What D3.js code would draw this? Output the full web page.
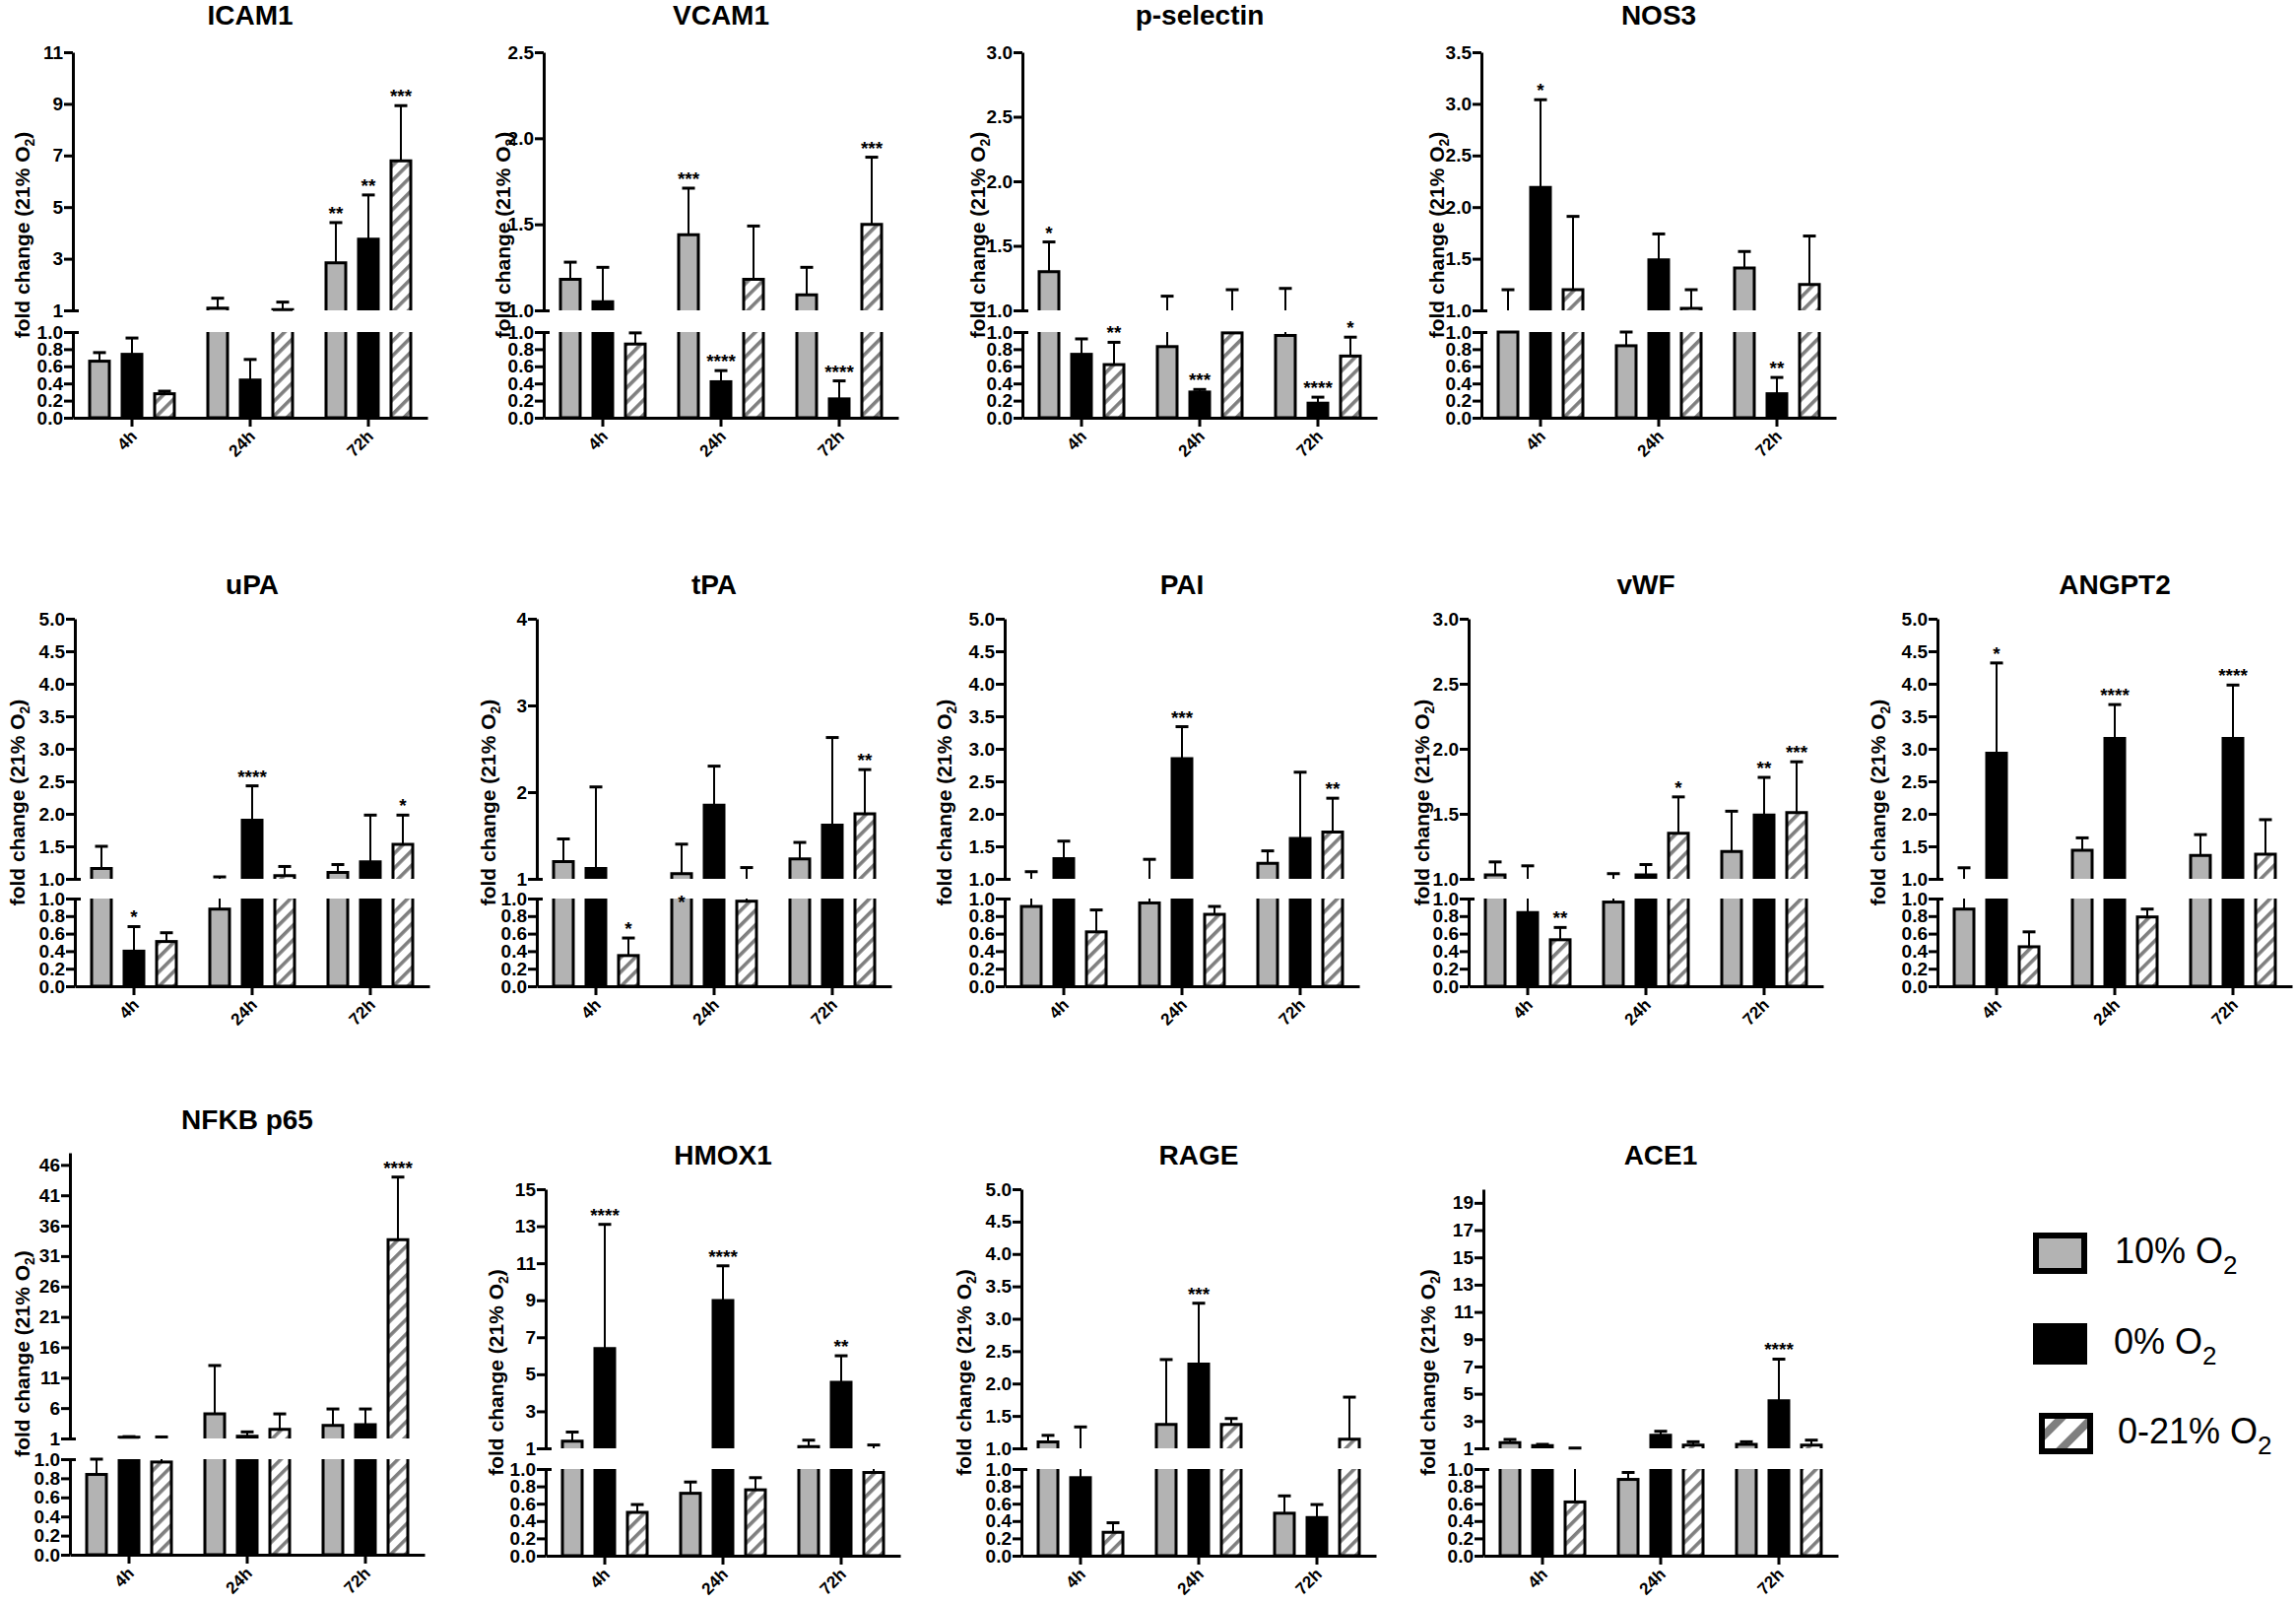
<!DOCTYPE html>
<html>
<head>
<meta charset="utf-8">
<script src="https://cdn.jsdelivr.net/npm/d3@7"></script>
<style>
body { margin: 0; background: #fff; }
svg text { font-family: "Liberation Sans", Arial, Helvetica, sans-serif; }
</style>
</head>
<body>
<svg id="chart" width="2331" height="1627"></svg>
<script>
var timepoints = ['4h', '24h', '72h'];
var conditions = ['10% O', '0% O', '0-21% O'];   // subscript 2 is added when drawn
var lowerTicks = [0, 0.2, 0.4, 0.6, 0.8, 1.0];

var genes = ['ICAM1', 'VCAM1', 'p-selectin', 'NOS3', 'uPA', 'tPA', 'PAI', 'vWF', 'ANGPT2', 'NFKB p65', 'HMOX1', 'RAGE', 'ACE1'];
var upperTicks = [
    [1, 3, 5, 7, 9, 11],
    [1.0, 1.5, 2.0, 2.5],
    [1.0, 1.5, 2.0, 2.5, 3.0],
    [1.0, 1.5, 2.0, 2.5, 3.0, 3.5],
    [1.0, 1.5, 2.0, 2.5, 3.0, 3.5, 4.0, 4.5, 5.0],
    [1, 2, 3, 4],
    [1.0, 1.5, 2.0, 2.5, 3.0, 3.5, 4.0, 4.5, 5.0],
    [1.0, 1.5, 2.0, 2.5, 3.0],
    [1.0, 1.5, 2.0, 2.5, 3.0, 3.5, 4.0, 4.5, 5.0],
    [1, 6, 11, 16, 21, 26, 31, 36, 41, 46],
    [1, 3, 5, 7, 9, 11, 13, 15],
    [1.0, 1.5, 2.0, 2.5, 3.0, 3.5, 4.0, 4.5, 5.0],
    [1, 3, 5, 7, 9, 11, 13, 15, 17, 19]
];
var upperMax = [11, 2.5, 3.0, 3.5, 5.0, 4, 5.0, 3.0, 5.0, 48, 15, 5.0, 20];
var tickFormats = ['d', '.1f', '.1f', '.1f', '.1f', 'd', '.1f', '.1f', '.1f', 'd', 'd', '.1f', 'd'];

// rows: 10% O2, 0% O2, 0-21% O2 ; columns: 4h, 24h, 72h
var icam1Mean = [[0.66, 1.09, 2.84], [0.74, 0.44, 3.76], [0.28, 1.03, 6.79]];
var icam1Sd = [[0.10, 0.38, 1.56], [0.19, 0.24, 1.71], [0.03, 0.29, 2.14]];
var icam1Stars = [['', '', '**'], ['', '', '**'], ['', '', '***']];

var vcam1Mean = [[1.18, 1.44, 1.09], [1.05, 0.42, 0.22], [0.86, 1.18, 1.50]];
var vcam1Sd = [[0.10, 0.27, 0.16], [0.20, 0.13, 0.21], [0.13, 0.31, 0.39]];
var vcam1Stars = [['', '***', ''], ['', '****', '****'], ['', '', '***']];

var pselMean = [[1.30, 0.83, 0.96], [0.74, 0.30, 0.17], [0.62, 0.99, 0.72]];
var pselSd = [[0.23, 0.28, 0.21], [0.18, 0.03, 0.07], [0.26, 0.17, 0.22]];
var pselStars = [['*', '', ''], ['', '***', '****'], ['**', '', '*']];

var nos3Mean = [[1.00, 0.84, 1.41], [2.19, 1.49, 0.28], [1.20, 1.02, 1.25]];
var nos3Sd = [[0.20, 0.16, 0.16], [0.85, 0.25, 0.19], [0.71, 0.18, 0.47]];
var nos3Stars = [['', '', ''], ['*', '', '**'], ['', '', '']];

var upaMean = [[1.16, 0.88, 1.10], [0.40, 1.90, 1.26], [0.51, 1.05, 1.53]];
var upaSd = [[0.34, 0.15, 0.12], [0.28, 0.53, 0.72], [0.10, 0.14, 0.45]];
var upaStars = [['', '', ''], ['*', '****', ''], ['', '', '*']];

var tpaMean = [[1.20, 1.06, 1.23], [1.12, 1.85, 1.62], [0.35, 0.97, 1.75]];
var tpaSd = [[0.26, 0.34, 0.19], [0.94, 0.45, 1.01], [0.20, 0.16, 0.51]];
var tpaStars = [['', '*', ''], ['', '', ''], ['*', '', '**']];
// the 24h 10% O2 star of tPA sits on the lower axis top, not above its error bar
var tpaStarAt = [[null, 1.0, null], [null, null, null], [null, null, null]];

var paiMean = [[0.91, 0.95, 1.24], [1.31, 2.85, 1.62], [0.62, 0.82, 1.72]];
var paiSd = [[0.20, 0.35, 0.19], [0.27, 0.49, 1.02], [0.25, 0.09, 0.52]];
var paiStars = [['', '', ''], ['', '***', ''], ['', '', '**']];

var vwfMean = [[1.03, 0.96, 1.21], [0.84, 1.03, 1.49], [0.53, 1.35, 1.51]];
var vwfSd = [[0.10, 0.08, 0.31], [0.26, 0.08, 0.29], [0.14, 0.28, 0.39]];
var vwfStars = [['', '', ''], ['', '', '**'], ['**', '*', '***']];

var angpt2Mean = [[0.88, 1.44, 1.36], [2.93, 3.16, 3.16], [0.45, 0.79, 1.38]];
var angpt2Sd = [[0.29, 0.19, 0.32], [1.39, 0.52, 0.82], [0.17, 0.09, 0.53]];
var angpt2Stars = [['', '', ''], ['*', '****', '****'], ['', '', '']];

var nfkbMean = [[0.84, 5.04, 3.15], [1.20, 1.38, 3.26], [0.97, 2.50, 33.7]];
var nfkbSd = [[0.16, 7.96, 2.70], [0.10, 0.70, 2.59], [0.28, 2.54, 10.3]];
var nfkbStars = [['', '', ''], ['', '', ''], ['', '', '****']];

var hmox1Mean = [[1.39, 0.72, 1.09], [6.39, 8.99, 4.57], [0.50, 0.76, 0.96]];
var hmox1Sd = [[0.49, 0.13, 0.35], [6.71, 1.87, 1.43], [0.09, 0.14, 0.22]];
var hmox1Stars = [['', '', ''], ['****', '****', '**'], ['', '', '']];

var rageMean = [[1.10, 1.37, 0.49], [0.90, 2.30, 0.44], [0.27, 1.37, 1.14]];
var rageSd = [[0.10, 1.00, 0.20], [0.43, 0.94, 0.15], [0.11, 0.09, 0.65]];
var rageStars = [['', '', ''], ['', '***', ''], ['', '', '']];

var ace1Mean = [[1.41, 0.88, 1.29], [1.19, 1.96, 4.49], [0.62, 1.24, 1.24]];
var ace1Sd = [[0.24, 0.08, 0.19], [0.10, 0.29, 3.05], [0.40, 0.24, 0.36]];
var ace1Stars = [['', '', ''], ['', '', '****'], ['', '', '']];

var means = [icam1Mean, vcam1Mean, pselMean, nos3Mean, upaMean, tpaMean, paiMean, vwfMean, angpt2Mean, nfkbMean, hmox1Mean, rageMean, ace1Mean];
var sds = [icam1Sd, vcam1Sd, pselSd, nos3Sd, upaSd, tpaSd, paiSd, vwfSd, angpt2Sd, nfkbSd, hmox1Sd, rageSd, ace1Sd];
var stars = [icam1Stars, vcam1Stars, pselStars, nos3Stars, upaStars, tpaStars, paiStars, vwfStars, angpt2Stars, nfkbStars, hmox1Stars, rageStars, ace1Stars];

// ---- layout ----
var panelX = [74, 552, 1038, 1504, 76, 545, 1020, 1491, 1967, 71, 554, 1037, 1506];
var panelRow = [0, 0, 0, 0, 1, 1, 1, 1, 1, 2, 2, 2, 2];
// centre of the rotated y label, relative to the y axis
var labelDx = [-51, -41, -45, -45, -58, -49, -61, -47, -60, -48, -50, -58, -56];
var rows = [
    {title: 25, top: 53, brk: 315, low: 337, zero: 424},
    {title: 603, top: 628, brk: 892, low: 912, zero: 1001},
    {title: 1182, top: 1207, brk: 1470, low: 1491, zero: 1579}
];
var nfkbRow = {title: 1146, top: 1170, brk: 1460, low: 1481, zero: 1578};

var fills = ['#b3b3b3', '#000', 'url(#hatch)'];
var fontFam = '"Liberation Sans", Arial, Helvetica, sans-serif';

var svg = d3.select('#chart');
var defs = svg.append('defs');

var hatch = defs.append('pattern')
    .attr('id', 'hatch')
    .attr('patternUnits', 'userSpaceOnUse')
    .attr('width', 10.5).attr('height', 10.5)
    .attr('patternTransform', 'rotate(45)');
hatch.append('rect').attr('width', 10.5).attr('height', 10.5).attr('fill', '#fff');
hatch.append('rect').attr('width', 3.6).attr('height', 10.5).attr('fill', '#7f7f7f');

var hatchBig = defs.append('pattern')
    .attr('id', 'hatchBig')
    .attr('patternUnits', 'userSpaceOnUse')
    .attr('width', 22).attr('height', 22)
    .attr('patternTransform', 'translate(2075,1440) rotate(45)');
hatchBig.append('rect').attr('width', 22).attr('height', 22).attr('fill', '#fff');
hatchBig.append('rect').attr('x', 8).attr('width', 8).attr('height', 22).attr('fill', '#7f7f7f');

var xGroup = d3.scaleBand().domain(timepoints).range([0, 360]);
var xInner = d3.scaleBand().domain(conditions).range([-43, 43]).paddingInner(0.394);

function styleAxis(sel) {
    sel.attr('font-size', 19).attr('font-family', fontFam).attr('font-weight', 'bold');
    sel.select('.domain').attr('stroke-width', 3);
    sel.selectAll('.tick line').attr('stroke-width', 3);
    sel.selectAll('.tick text').attr('fill', '#000');
}

genes.forEach(function(gene, i) {
    var L = (i == 9) ? nfkbRow : rows[panelRow[i]];
    var g = svg.append('g').attr('transform', 'translate(' + panelX[i] + ',0)');

    var yUp = d3.scaleLinear().domain([1, upperMax[i]]).range([L.brk, L.top]);
    var yLo = d3.scaleLinear().domain([0, 1]).range([L.zero, L.low]);
    function yAt(v) { return v > 1 ? yUp(v) : yLo(v); }

    // title
    g.append('text')
        .attr('x', 180).attr('y', L.title)
        .attr('text-anchor', 'middle')
        .attr('font-size', 28).attr('font-weight', 'bold')
        .text(gene);

    // y label, baseline sits ~7px right of its visual centre
    var lab = g.append('text')
        .attr('transform', 'translate(' + (labelDx[i] + 7) + ',' + ((L.top + L.zero) / 2) + ') rotate(-90)')
        .attr('text-anchor', 'middle')
        .attr('font-size', 21).attr('font-weight', 'bold');
    lab.append('tspan').text('fold change (21% O');
    lab.append('tspan').attr('font-size', 14).attr('dy', 5).text('2');
    lab.append('tspan').attr('dy', -5).text(')');

    // bars
    var bars = [];
    conditions.forEach(function(cond, c) {
        timepoints.forEach(function(tp, t) {
            bars.push({c: c, cond: cond, tp: tp, mean: means[i][c][t], sd: sds[i][c][t], star: stars[i][c][t],
                starAt: (i == 5) ? tpaStarAt[c][t] : null});
        });
    });

    bars.forEach(function(b) {
        var x0 = xGroup(b.tp) + xGroup.bandwidth() / 2 + xInner(b.cond);
        var w = xInner.bandwidth();
        var x1 = x0 + w;
        var cx = x0 + w / 2;
        var low = Math.min(b.mean, 1);

        g.append('rect')
            .attr('x', x0).attr('y', yLo(low))
            .attr('width', w).attr('height', yLo(0) - yLo(low))
            .attr('fill', fills[b.c]);
        if (b.mean <= 1) {
            g.append('rect')
                .attr('x', x0).attr('y', yLo(low))
                .attr('width', w).attr('height', yLo(0) - yLo(low))
                .attr('fill', 'none').attr('stroke', '#000').attr('stroke-width', 3);
        } else {
            g.append('path')
                .attr('d', 'M' + x0 + ',' + yLo(1) + 'V' + yLo(0) + 'H' + x1 + 'V' + yLo(1))
                .attr('fill', 'none').attr('stroke', '#000').attr('stroke-width', 3);
            g.append('rect')
                .attr('x', x0).attr('y', yUp(b.mean))
                .attr('width', w).attr('height', yUp(1) - yUp(b.mean))
                .attr('fill', fills[b.c]);
            g.append('path')
                .attr('d', 'M' + x0 + ',' + yUp(1) + 'V' + yUp(b.mean) + 'H' + x1 + 'V' + yUp(1))
                .attr('fill', 'none').attr('stroke', '#000').attr('stroke-width', 3);
        }

        // error bar, upward only, split over the axis break
        var top = b.mean + b.sd;
        var segs = [];
        if (b.mean <= 1 && top > 1) {
            segs.push([yLo(b.mean), yLo(1)]);
            segs.push([yUp(1), yUp(top)]);
        } else {
            segs.push([yAt(b.mean), yAt(top)]);
        }
        segs.forEach(function(s) {
            g.append('line')
                .attr('x1', cx).attr('x2', cx).attr('y1', s[0]).attr('y2', s[1])
                .attr('stroke', '#000').attr('stroke-width', 2);
        });
        g.append('line')
            .attr('x1', cx - 6.5).attr('x2', cx + 6.5)
            .attr('y1', yAt(top)).attr('y2', yAt(top))
            .attr('stroke', '#000').attr('stroke-width', 3);

        if (b.star) {
            var sy = (b.starAt != null) ? yLo(b.starAt) + 10 : yAt(top) - 3;
            g.append('text')
                .attr('x', cx).attr('y', sy)
                .attr('text-anchor', 'middle')
                .attr('font-size', 19).attr('font-weight', 'bold')
                .text(b.star);
        }
    });

    // y axes (broken)
    g.append('g')
        .call(d3.axisLeft(yUp).tickValues(upperTicks[i]).tickSize(9).tickSizeOuter(0).tickPadding(1)
            .tickFormat(d3.format(tickFormats[i])))
        .call(styleAxis);
    g.append('g')
        .call(d3.axisLeft(yLo).tickValues(lowerTicks).tickSize(9).tickSizeOuter(0).tickPadding(1)
            .tickFormat(d3.format('.1f')))
        .call(styleAxis);
    [yUp(1), yLo(1)].forEach(function(yy) {
        g.append('line').attr('x1', 0).attr('x2', 6).attr('y1', yy + 0.5).attr('y2', yy + 0.5)
            .attr('stroke', '#000').attr('stroke-width', 3);
    });

    // x axis
    var xa = g.append('g')
        .attr('transform', 'translate(0,' + L.zero + ')')
        .call(d3.axisBottom(xGroup).tickSize(9).tickSizeOuter(0))
        .call(styleAxis);
    xa.selectAll('.tick text')
        .attr('x', 0).attr('y', 0).attr('dy', null)
        .attr('font-size', 17)
        .attr('text-anchor', 'end')
        .attr('transform', 'translate(6,20) rotate(-45)');
});

// legend
var legendY = [1272, 1364, 1455];
var legendBoxX = [2067, 2067, 2073];
var legendTextX = [2147, 2146, 2150];
var legendFills = ['#b3b3b3', '#000', 'url(#hatchBig)'];
var leg = svg.append('g');
conditions.forEach(function(cond, c) {
    leg.append('rect')
        .attr('x', legendBoxX[c]).attr('y', legendY[c] - 18)
        .attr('width', 49).attr('height', 36)
        .attr('fill', legendFills[c])
        .attr('stroke', '#000').attr('stroke-width', 6);
    var t = leg.append('text')
        .attr('x', legendTextX[c]).attr('y', legendY[c] + 10)
        .attr('font-size', 36);
    t.append('tspan').text(cond);
    t.append('tspan').attr('font-size', 26).attr('dy', 11).text('2');
});
</script>
</body>
</html>
